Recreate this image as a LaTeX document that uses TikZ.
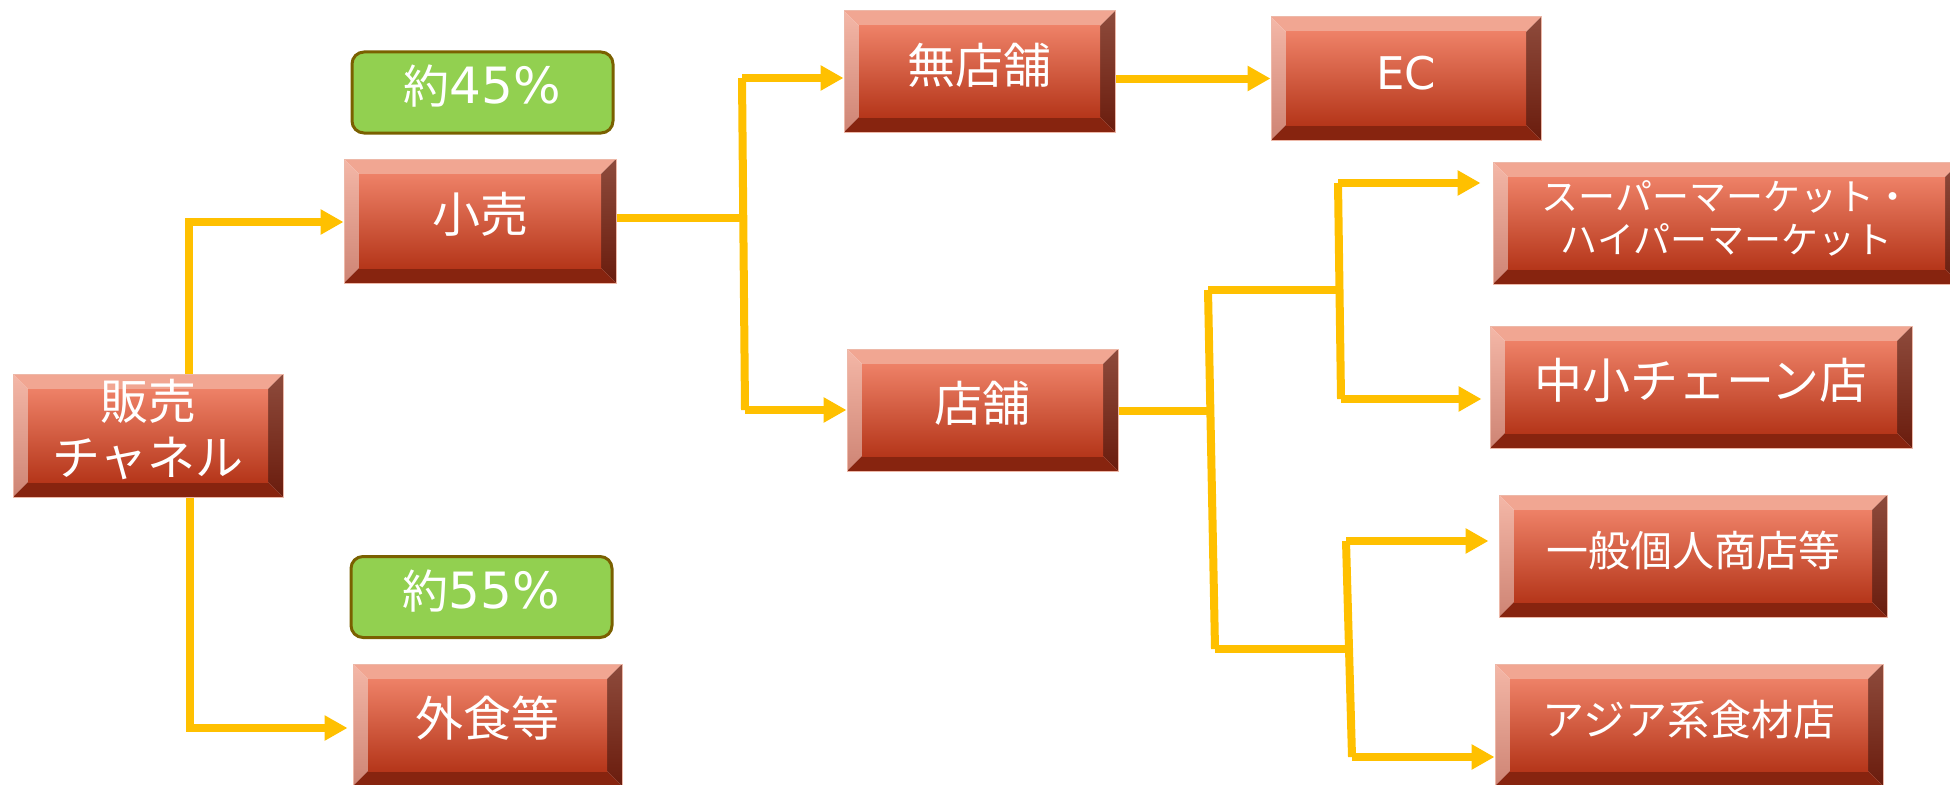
\documentclass[tikz,border=0pt]{standalone}
\usepackage{fontspec}
\newfontfamily\jp{Noto Sans CJK JP}
\newfontfamily\dv{DejaVu Sans}
\usetikzlibrary{arrows.meta}
\definecolor{linec}{HTML}{FFC000}
\definecolor{bevtop}{HTML}{F1A692}
\definecolor{bevlt}{HTML}{F4B7A7}
\definecolor{bevlb}{HTML}{CE8474}
\definecolor{bevrt}{HTML}{8E4B3C}
\definecolor{bevrb}{HTML}{6A1C0D}
\definecolor{bevbot}{HTML}{87240F}
\definecolor{facet}{HTML}{EE8167}
\definecolor{facem}{HTML}{E4502D}
\definecolor{faceb}{HTML}{B5361A}
\definecolor{bevedge}{HTML}{EDB8A8}
\definecolor{pctfill}{HTML}{92D050}
\definecolor{pctedge}{HTML}{7A6000}
\newcommand\bt[1]{\begin{tabular}{@{}c@{}}#1\end{tabular}}
\tikzset{
  bev/.style={rectangle, inner sep=0pt, text=white, draw=bevedge, line width=1pt,
    font=\jp\fontsize{48}{56}\selectfont,
    path picture={
      \path (path picture bounding box.north west) coordinate (pNW)
            (path picture bounding box.north east) coordinate (pNE)
            (path picture bounding box.south west) coordinate (pSW)
            (path picture bounding box.south east) coordinate (pSE);
      \fill[bevtop] (pNW) -- (pNE) -- ([shift={(-15pt,-15pt)}]pNE) -- ([shift={(15pt,-15pt)}]pNW) -- cycle;
      \shade[top color=bevlt, bottom color=bevlb] (pNW) -- ([shift={(15pt,-15pt)}]pNW) -- ([shift={(15pt,15pt)}]pSW) -- (pSW) -- cycle;
      \shade[top color=bevrt, bottom color=bevrb] (pNE) -- (pSE) -- ([shift={(-15pt,15pt)}]pSE) -- ([shift={(-15pt,-15pt)}]pNE) -- cycle;
      \fill[bevbot] (pSW) -- ([shift={(15pt,15pt)}]pSW) -- ([shift={(-15pt,15pt)}]pSE) -- (pSE) -- cycle;
      \shade[top color=facet, middle color=facem, bottom color=faceb] ([shift={(15pt,-15pt)}]pNW) rectangle ([shift={(-15pt,15pt)}]pSE);
    }},
  pct/.style={rectangle, rounded corners=12pt, fill=pctfill, draw=pctedge, line width=3pt,
    text=white, inner sep=0pt, minimum width=261pt, minimum height=81pt,
    font=\jp\fontsize{46}{56}\selectfont},
  ln/.style={draw=linec, line width=8pt},
  vln/.style={ln, line cap=square},
  conn/.style={draw=linec, line width=8pt, -{Triangle[length=23pt,width=24pt]}},
}
\begin{document}
\begin{tikzpicture}[x=1pt,y=-1pt]
\useasboundingbox (0,0) rectangle (1950,784);
% nodes
\node[bev, minimum width=270pt, minimum height=123pt] (ch) at (148,435.5) {\bt{販売\\チャネル}};
\node[bev, minimum width=272pt, minimum height=124pt] (kouri) at (480,221) {\bt{小売}};
\node[bev, minimum width=269pt, minimum height=122pt] (gai) at (487.5,725) {\bt{外食等}};
\node[pct] (p45) at (482.5,92.5) {\bt{約{\dv\fontsize{50}{56}\selectfont 45\%}}};
\node[pct] (p55) at (481.5,597) {\bt{約{\dv\fontsize{50}{56}\selectfont 55\%}}};
\node[bev, minimum width=271pt, minimum height=121pt] (mut) at (979.5,71.5) {\bt{無店舗}};
\node[bev, minimum width=271pt, minimum height=122pt] (tenpo) at (982.5,410) {\bt{店舗}};
\node[bev, minimum width=270pt, minimum height=123pt, font=\dv\fontsize{45}{56}\selectfont] (ec) at (1406,78.5) {\bt{EC}};
\node[bev, minimum width=467pt, minimum height=122pt, font=\jp\fontsize{37}{43}\selectfont] (sup) at (1726.5,223) {\bt{スーパーマーケット・\\ハイパーマーケット}};
\node[bev, minimum width=422pt, minimum height=122pt] (chu) at (1701,387) {\bt{中小チェーン店}};
\node[bev, minimum width=388pt, minimum height=122pt, font=\jp\fontsize{42}{50}\selectfont] (ipp) at (1693,556) {\bt{一般個人商店等}};
\node[bev, minimum width=388pt, minimum height=122pt, font=\jp\fontsize{42}{50}\selectfont] (asia) at (1689,725) {\bt{アジア系食材店}};
% connectors
\coordinate (a1) at (189,222);
\draw[conn] (ch.north -| a1) -- (a1) -- (kouri.west |- a1);
\coordinate (a2) at (190,728);
\draw[conn] (ch.south -| a2) -- (a2) -- ([xshift=-5pt]gai.west |- a2);
\coordinate (b0) at (743,218);
\coordinate (b1) at (742,78);
\coordinate (b2) at (745,410);
\draw[ln] (kouri.east |- b0) -- (b0);
\draw[vln] (b1) -- (b2);
\draw[conn] (b1) -- (mut.west |- b1);
\draw[conn] (b2) -- (tenpo.west |- b2);
\draw[conn] (mut.east |- ec.west) -- (ec.west);
\coordinate (c0) at (1209,411);
\coordinate (c1) at (1208,290);
\coordinate (c2) at (1215,649);
\draw[ln] (tenpo.east |- c0) -- (c0);
\draw[vln] (c1) -- (c2);
\coordinate (d1) at (1339,290);
\coordinate (d2) at (1349,649);
\draw[ln] (c1) -- (d1);
\draw[ln] (c2) -- (d2);
\coordinate (e1) at (1338,183);
\coordinate (e2) at (1341,399);
\draw[vln] (e1) -- (e2);
\draw[conn, shorten >=12pt] (e1) -- (sup.west |- e1);
\draw[conn, shorten >=8pt] (e2) -- (chu.west |- e2);
\coordinate (f1) at (1346,541);
\coordinate (f2) at (1352,757);
\draw[vln] (f1) -- (f2);
\draw[conn, shorten >=10pt] (f1) -- (ipp.west |- f1);
\draw[conn] (f2) -- (asia.west |- f2);
\end{tikzpicture}
\end{document}
